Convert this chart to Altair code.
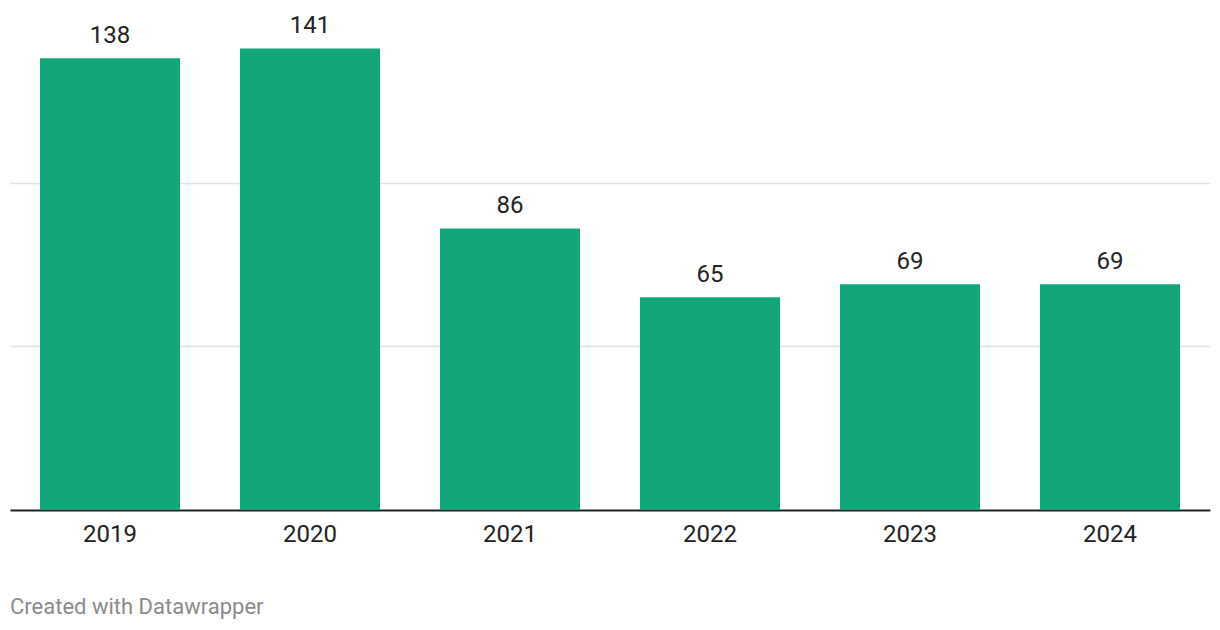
import altair as alt
import pandas as pd

years = ["2019", "2020", "2021", "2022", "2023", "2024"]
values = [138, 141, 86, 65, 69, 69]

df = pd.DataFrame({"year": years, "value": values})

FONT = "Roboto"
GREEN = "#14a67b"

base = alt.Chart(df).encode(
    x=alt.X(
        "year:N",
        sort=years,
        title=None,
        scale=alt.Scale(paddingInner=0.3, paddingOuter=0.15),
        axis=alt.Axis(
            labelAngle=0,
            labelFontSize=24,
            labelFont=FONT,
            labelColor="#222222",
            labelPadding=12,
            ticks=False,
            domainColor="#222222",
            domainWidth=2,
            grid=False,
        ),
    ),
    y=alt.Y(
        "value:Q",
        title=None,
        scale=alt.Scale(domain=[0, 150], nice=False),
        axis=alt.Axis(
            values=[50, 100],
            labels=False,
            ticks=False,
            domain=False,
            grid=True,
            gridColor="#e2e2e2",
            gridWidth=1.5,
        ),
    ),
)

bars = base.mark_bar(color=GREEN)
labels = base.mark_text(
    baseline="alphabetic", dy=-15, fontSize=24, font=FONT, color="#222222"
).encode(text="value:Q")

chart = (
    (bars + labels)
    .properties(
        width=1200,
        height=491,
        padding={"left": 2, "top": 6, "right": 2, "bottom": 5},
        title=alt.TitleParams(
            text="Created with Datawrapper",
            orient="bottom",
            anchor="start",
            fontSize=22,
            font=FONT,
            fontWeight="normal",
            color="#8a8a8a",
            offset=51,
        ),
    )
    .configure_view(stroke=None)
    .configure_axis(labelFont=FONT)
)

chart.save("out.html", embed_options={"renderer": "svg", "actions": False})
